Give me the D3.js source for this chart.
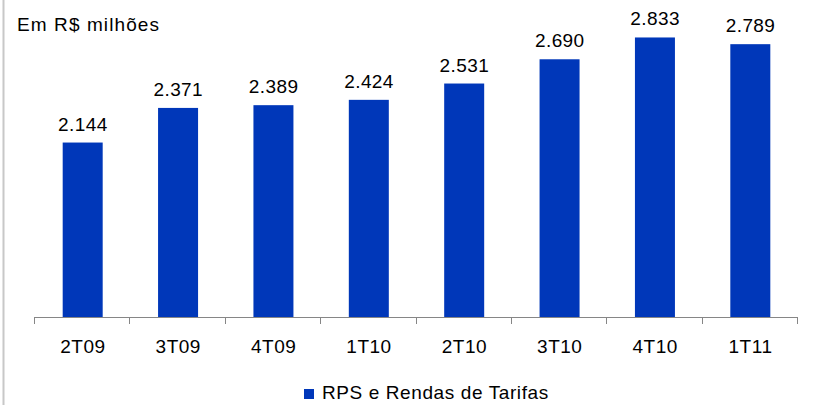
<!DOCTYPE html>
<html>
<head>
<meta charset="utf-8">
<script src="https://cdn.jsdelivr.net/npm/d3@7"></script>
<style>
  body { margin: 0; background: #fff; }
  text { font-family: "Liberation Sans", Arial, sans-serif; fill: #000; }
</style>
</head>
<body>
<svg id="chart" width="821" height="405"></svg>
<script>
// chart data
var categories = ["2T09", "3T09", "4T09", "1T10", "2T10", "3T10", "4T10", "1T11"];
var values = [2144, 2371, 2389, 2424, 2531, 2690, 2833, 2789];
var seriesName = "RPS e Rendas de Tarifas";
var unitLabel = "Em R$ milhões";

var barColor = "#0037B9";
var fontSize = 19;

var svg = d3.select("#chart");

// left frame line
svg.append("line")
  .attr("x1", 3.5).attr("x2", 3.5)
  .attr("y1", 0).attr("y2", 405)
  .attr("stroke", "#c8c8c8").attr("stroke-width", 2);

var x = d3.scaleBand()
  .domain(categories)
  .range([34, 797])
  .paddingInner(0).paddingOuter(0);

var y = d3.scaleLinear()
  .domain([1000, 3000])
  .range([317, 12]);

var barWidth = 40;
var fmt = function(v){ return d3.format(",")(v).replace(/,/g, "."); };

var bars = svg.append("g");
bars.selectAll("rect").data(values).enter().append("rect")
  .attr("x", function(d, i){ return x(categories[i]) + x.bandwidth()/2 - barWidth/2 + 1; })
  .attr("y", function(d){ return y(d); })
  .attr("width", barWidth)
  .attr("height", function(d){ return y.range()[0] - y(d); })
  .attr("fill", barColor);

bars.selectAll("text").data(values).enter().append("text")
  .attr("x", function(d, i){ return x(categories[i]) + x.bandwidth()/2 + 1.2; })
  .attr("y", function(d){ return y(d) - 12; })
  .attr("text-anchor", "middle")
  .style("font-size", fontSize + "px")
  .style("letter-spacing", "0.4px")
  .text(fmt);

// category axis with ticks at the band edges
var axis = svg.append("g");
axis.append("line")
  .attr("x1", 34).attr("x2", 797)
  .attr("y1", 317.5).attr("y2", 317.5)
  .attr("stroke", "#868686");

var edges = categories.map(function(c){ return x(c); }).concat([x.range()[1]]);
axis.selectAll("line.tick").data(edges).enter().append("line")
  .attr("class", "tick")
  .attr("x1", function(d){ return Math.round(d) + 0.5; })
  .attr("x2", function(d){ return Math.round(d) + 0.5; })
  .attr("y1", 317).attr("y2", 324)
  .attr("stroke", "#868686");

axis.selectAll("text").data(categories).enter().append("text")
  .attr("x", function(d){ return x(d) + x.bandwidth()/2 + 1.2; })
  .attr("y", 353)
  .attr("text-anchor", "middle")
  .style("font-size", fontSize + "px")
  .style("letter-spacing", "0.5px")
  .text(function(d){ return d; });

// unit label
svg.append("text")
  .attr("x", 17).attr("y", 31)
  .style("font-size", fontSize + "px")
  .style("letter-spacing", "1.1px")
  .text(unitLabel);

// legend
var legend = svg.append("g");
legend.append("rect")
  .attr("x", 304).attr("y", 389)
  .attr("width", 10).attr("height", 10)
  .attr("fill", barColor);
legend.append("text")
  .attr("x", 322).attr("y", 399)
  .style("font-size", fontSize + "px")
  .style("letter-spacing", "0.6px")
  .text(seriesName);
</script>
</body>
</html>
